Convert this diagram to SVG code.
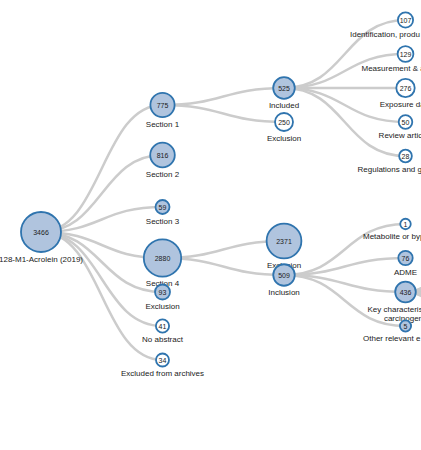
<svg xmlns="http://www.w3.org/2000/svg" width="421" height="450" viewBox="0 0 421 450">
<style>
.link{fill:none;stroke:#cccccc;stroke-width:2.5}
.node circle{stroke:#2f74ae;stroke-width:1.8}
.p{fill:#b0c4de}
.l{fill:#ffffff}
.num{font-family:"Liberation Sans",Arial,sans-serif;font-size:7px;text-anchor:middle;fill:#222}
.lbl{font-family:"Liberation Sans",Arial,sans-serif;font-size:8px;text-anchor:middle;fill:#222}
.cut{text-anchor:start}
</style>
<rect width="421" height="450" fill="#ffffff"/>
<g id="links">
<path class="link" d="M41,232 C101.75,232 101.75,105 162.5,105"/>
<path class="link" d="M41,232 C101.75,232 101.75,155 162.5,155"/>
<path class="link" d="M41,232 C101.75,232 101.75,207 162.5,207"/>
<path class="link" d="M41,232 C101.75,232 101.75,258 162.5,258"/>
<path class="link" d="M41,232 C101.75,232 101.75,292 162.5,292"/>
<path class="link" d="M41,232 C101.75,232 101.75,326 162.5,326"/>
<path class="link" d="M41,232 C101.75,232 101.75,360 162.5,360"/>
<path class="link" d="M162.5,105 C223.25,105 223.25,88 284,88"/>
<path class="link" d="M162.5,105 C223.25,105 223.25,122 284,122"/>
<path class="link" d="M162.5,258 C223.25,258 223.25,241 284,241"/>
<path class="link" d="M162.5,258 C223.25,258 223.25,275 284,275"/>
<path class="link" d="M284,88 C344.75,88 344.75,20 405.5,20"/>
<path class="link" d="M284,88 C344.75,88 344.75,54 405.5,54"/>
<path class="link" d="M284,88 C344.75,88 344.75,88 405.5,88"/>
<path class="link" d="M284,88 C344.75,88 344.75,122 405.5,122"/>
<path class="link" d="M284,88 C344.75,88 344.75,156 405.5,156"/>
<path class="link" d="M284,275 C344.75,275 344.75,224 405.5,224"/>
<path class="link" d="M284,275 C344.75,275 344.75,258 405.5,258"/>
<path class="link" d="M284,275 C344.75,275 344.75,292 405.5,292"/>
<path class="link" d="M284,275 C344.75,275 344.75,326 405.5,326"/>
<path class="link" d="M405.5,292 C466.25,292 466.25,139 527,139"/>
<path class="link" d="M405.5,292 C466.25,292 466.25,173 527,173"/>
<path class="link" d="M405.5,292 C466.25,292 466.25,207 527,207"/>
<path class="link" d="M405.5,292 C466.25,292 466.25,241 527,241"/>
<path class="link" d="M405.5,292 C466.25,292 466.25,275 527,275"/>
<path class="link" d="M405.5,292 C466.25,292 466.25,309 527,309"/>
<path class="link" d="M405.5,292 C466.25,292 466.25,343 527,343"/>
<path class="link" d="M405.5,292 C466.25,292 466.25,377 527,377"/>
<path class="link" d="M405.5,292 C466.25,292 466.25,411 527,411"/>
<path class="link" d="M405.5,292 C466.25,292 466.25,445 527,445"/>
</g>
<g id="node-3466" class="node" transform="translate(41,232)"><circle class="p" r="20"/><text class="num" y="2.5">3466</text><text class="lbl" y="29.5">128-M1-Acrolein (2019)</text></g>
<g id="node-775" class="node" transform="translate(162.5,105)"><circle class="p" r="12.1"/><text class="num" y="2.5">775</text><text class="lbl" y="21.6">Section 1</text></g>
<g id="node-816" class="node" transform="translate(162.5,155)"><circle class="p" r="12.3"/><text class="num" y="2.5">816</text><text class="lbl" y="21.8">Section 2</text></g>
<g id="node-59" class="node" transform="translate(162.5,207)"><circle class="p" r="7"/><text class="num" y="2.5">59</text><text class="lbl" y="16.5">Section 3</text></g>
<g id="node-2880" class="node" transform="translate(162.5,258)"><circle class="p" r="18.7"/><text class="num" y="2.5">2880</text><text class="lbl" y="28.2">Section 4</text></g>
<g id="node-93" class="node" transform="translate(162.5,292)"><circle class="p" r="7.5"/><text class="num" y="2.5">93</text><text class="lbl" y="17">Exclusion</text></g>
<g id="node-41" class="node" transform="translate(162.5,326)"><circle class="l" r="6.6"/><text class="num" y="2.5">41</text><text class="lbl" y="16.1">No abstract</text></g>
<g id="node-34" class="node" transform="translate(162.5,360)"><circle class="l" r="6.5"/><text class="num" y="2.5">34</text><text class="lbl" y="16">Excluded from archives</text></g>
<g id="node-525" class="node" transform="translate(284,88)"><circle class="p" r="10.8"/><text class="num" y="2.5">525</text><text class="lbl" y="20.3">Included</text></g>
<g id="node-250" class="node" transform="translate(284,122)"><circle class="l" r="9"/><text class="num" y="2.5">250</text><text class="lbl" y="18.5">Exclusion</text></g>
<g id="node-2371" class="node" transform="translate(284,241)"><circle class="p" r="17.4"/><text class="num" y="2.5">2371</text><text class="lbl" y="26.9">Exclusion</text></g>
<g id="node-509" class="node" transform="translate(284,275)"><circle class="p" r="10.75"/><text class="num" y="2.5">509</text><text class="lbl" y="20.3">Inclusion</text></g>
<g id="node-107" class="node" transform="translate(405.5,20)"><circle class="l" r="7.6"/><text class="num" y="2.5">107</text><text class="lbl cut" x="-55.5" y="17.1">Identification, produ</text></g>
<g id="node-129" class="node" transform="translate(405.5,54)"><circle class="l" r="7.9"/><text class="num" y="2.5">129</text><text class="lbl cut" x="-44" y="17.4">Measurement &amp; a</text></g>
<g id="node-276" class="node" transform="translate(405.5,88)"><circle class="l" r="9.2"/><text class="num" y="2.5">276</text><text class="lbl cut" x="-25.8" y="18.7">Exposure da</text></g>
<g id="node-50" class="node" transform="translate(405.5,122)"><circle class="l" r="6.8"/><text class="num" y="2.5">50</text><text class="lbl cut" x="-26.9" y="16.3">Review artic</text></g>
<g id="node-28" class="node" transform="translate(405.5,156)"><circle class="l" r="6.35"/><text class="num" y="2.5">28</text><text class="lbl cut" x="-48" y="15.9">Regulations and g</text></g>
<g id="node-1" class="node" transform="translate(405.5,224)"><circle class="l" r="5.25"/><text class="num" y="2.5">1</text><text class="lbl cut" x="-42.5" y="14.8">Metabolite or byp</text></g>
<g id="node-76" class="node" transform="translate(405.5,258)"><circle class="p" r="7.2"/><text class="num" y="2.5">76</text><text class="lbl" y="16.7">ADME</text></g>
<g id="node-436" class="node" transform="translate(405.5,292)"><circle class="p" r="10.3"/><text class="num" y="2.5">436</text><text class="lbl cut" x="-38" y="19.8">Key characteris</text><text class="lbl cut" x="-21.6" y="28.6">carcinogen</text></g>
<g id="node-5" class="node" transform="translate(405.5,326)"><circle class="p" r="5.6"/><text class="num" y="2.5">5</text><text class="lbl cut" x="-42.5" y="15.1">Other relevant e</text></g>
</svg>
